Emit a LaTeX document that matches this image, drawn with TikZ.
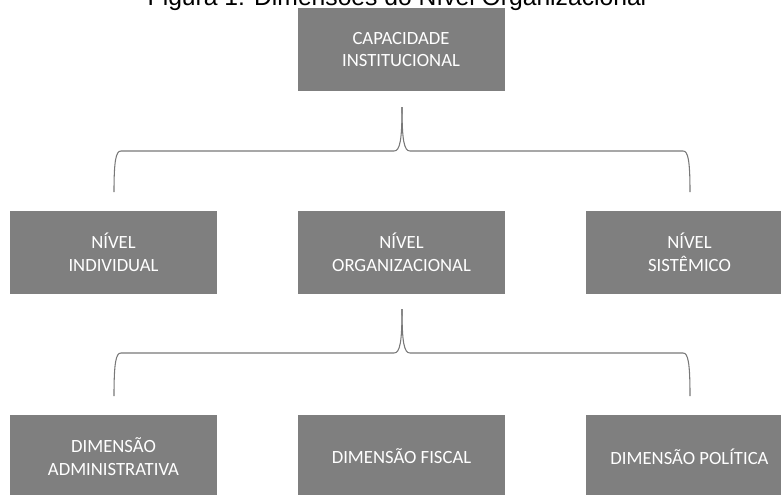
\documentclass[tikz,border=0pt]{standalone}
\usepackage{fontspec}
\setmainfont{Carlito}
\newfontfamily\titlefont{Liberation Sans}
\definecolor{cinza}{RGB}{127,127,127}
\definecolor{linha}{RGB}{120,120,120}

\tikzset{
    caixa/.style={fill=cinza, text=white, align=center, inner sep=0pt,
        minimum width=155.25pt, minimum height=62.25pt,
        font=\fontsize{14}{17}\selectfont},
    chave/.style={draw=linha, line width=0.8pt}
}

\begin{document}
\begin{tikzpicture}[x=0.75pt, y=-0.75pt]
        \useasboundingbox (0, 0) rectangle (781, 494);
        % 标题
        \node[anchor=base, font=\titlefont\fontsize{18.5}{20}\selectfont] (titulo) at (397, 5)
            {Figura 1: Dimensões do Nível Organizacional};
        % 第一层
        \node[caixa] (capacidade) at (401, 49.5) {CAPACIDADE\\INSTITUCIONAL};
        % 第二层
        \node[caixa] (individual) at (113.5, 252) {NÍVEL\\INDIVIDUAL};
        \node[caixa] (organizacional) at (401.5, 252) {NÍVEL\\ORGANIZACIONAL};
        \node[caixa] (sistemico) at (689.5, 252) {NÍVEL\\SISTÊMICO};
        % 第三层
        \node[caixa] (administrativa) at (113.5, 456.5) {DIMENSÃO\\ADMINISTRATIVA};
        \node[caixa] (fiscal) at (401.5, 456.5) {DIMENSÃO FISCAL};
        \node[caixa] (politica) at (689.5, 456.5) {DIMENSÃO POLÍTICA};
        % 大括号
        \coordinate (ponta1) at (402, 107);
        \draw[chave] (ponta1) .. controls (402, 140) and (400, 151) .. (394, 151)
            -- (121, 151) .. controls (116, 151) and (114, 160) .. (114, 192);
        \draw[chave] (ponta1) .. controls (402, 140) and (404, 151) .. (410, 151)
            -- (683, 151) .. controls (688, 151) and (690, 160) .. (690, 192);
        \coordinate (ponta2) at (402, 309);
        \draw[chave] (ponta2) .. controls (402, 342) and (400, 353) .. (394, 353)
            -- (121, 353) .. controls (116, 353) and (114, 362) .. (114, 396);
        \draw[chave] (ponta2) .. controls (402, 342) and (404, 353) .. (410, 353)
            -- (683, 353) .. controls (688, 353) and (690, 362) .. (690, 396);
    \end{tikzpicture}
\end{document}
